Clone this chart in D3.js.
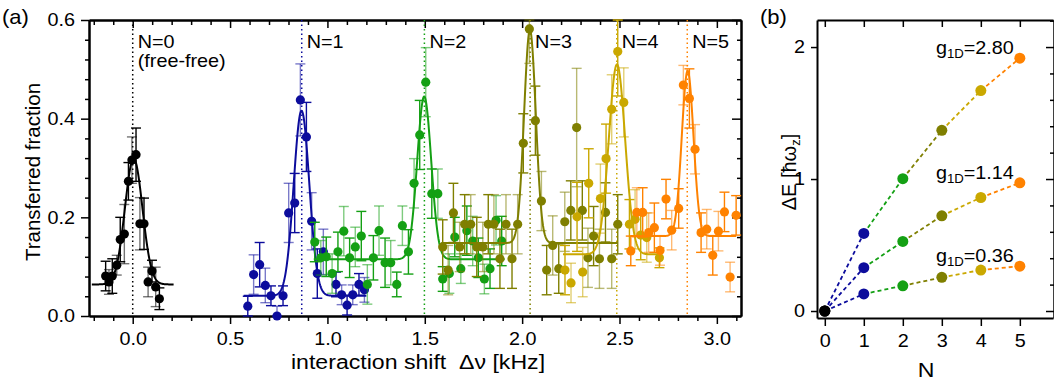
<!DOCTYPE html>
<html>
<head>
<meta charset="utf-8">
<script src="https://cdn.jsdelivr.net/npm/d3@7"></script>
<style>
  html, body { margin: 0; padding: 0; background: #fff; }
  svg text { font-family: "Liberation Sans", Arial, Helvetica, sans-serif; fill: #000; }
</style>
</head>
<body>
<svg id="fig" width="1054" height="382"></svg>
<script>
// ---------- panel (a): spectroscopy data, one set per bound state N ----------
const seriesNames = ["N=0", "N=1", "N=2", "N=3", "N=4", "N=5"];
const seriesColors = ["#000000", "#0c0c9c", "#14a014", "#7f7f00", "#caa800", "#ff8200"];

// interaction shift [kHz], transferred fraction, error
const n0Shift = [-0.139, -0.122, -0.105, -0.082, -0.064, -0.043, -0.022, -0.004, 0.017, 0.037, 0.058, 0.079, 0.099, 0.118, 0.137];
const n0Frac  = [0.081, 0.069, 0.081, 0.103, 0.155, 0.166, 0.273, 0.316, 0.327, 0.187, 0.187, 0.069, 0.091, 0.059, 0.035];
const n0Err   = [0.030, 0.025, 0.035, 0.020, 0.045, 0.060, 0.038, 0.047, 0.054, 0.053, 0.052, 0.030, 0.022, 0.040, 0.022];

const n1Shift = [0.591, 0.621, 0.652, 0.681, 0.710, 0.741, 0.772, 0.801, 0.832, 0.861, 0.892, 0.919, 0.948, 0.979, 1.044, 1.073, 1.101, 1.130, 1.162, 1.190];
const n1Frac  = [0.020, 0.084, 0.104, 0.062, 0.041, 0.000, 0.041, 0.209, 0.229, 0.438, 0.363, 0.192, 0.086, 0.130, 0.064, 0.043, 0.022, 0.043, 0.064, 0.053];
const n1Err   = [0.020, 0.040, 0.045, 0.035, 0.020, 0.020, 0.020, 0.060, 0.060, 0.073, 0.070, 0.058, 0.050, 0.046, 0.025, 0.020, 0.020, 0.020, 0.022, 0.025];

const n2Shift = [0.935, 0.966, 0.994, 1.024, 1.054, 1.084, 1.114, 1.143, 1.174, 1.205, 1.236, 1.265, 1.296, 1.325, 1.356, 1.385, 1.416, 1.445, 1.474, 1.505, 1.536, 1.567, 1.592, 1.626, 1.654, 1.685, 1.716, 1.746, 1.775, 1.806, 1.835, 1.866, 1.895];
const n2Frac  = [0.150, 0.118, 0.120, 0.086, 0.130, 0.172, 0.118, 0.140, 0.162, 0.064, 0.118, 0.173, 0.108, 0.108, 0.064, 0.183, 0.130, 0.269, 0.367, 0.474, 0.248, 0.248, 0.075, 0.086, 0.160, 0.096, 0.173, 0.152, 0.118, 0.075, 0.096, 0.194, 0.152];
const n2Err   = [0.040, 0.035, 0.040, 0.040, 0.040, 0.050, 0.040, 0.040, 0.050, 0.040, 0.045, 0.050, 0.050, 0.045, 0.025, 0.040, 0.045, 0.050, 0.070, 0.070, 0.050, 0.050, 0.025, 0.040, 0.040, 0.030, 0.050, 0.050, 0.040, 0.030, 0.040, 0.050, 0.050];

const n3Shift = [1.592, 1.620, 1.647, 1.679, 1.705, 1.736, 1.767, 1.798, 1.826, 1.855, 1.886, 1.917, 1.948, 1.977, 2.006, 2.037, 2.068, 2.099, 2.126, 2.157, 2.188, 2.219, 2.250, 2.280, 2.309, 2.338, 2.367, 2.397, 2.428, 2.460, 2.491];
const n3Frac  = [0.140, 0.093, 0.209, 0.140, 0.186, 0.186, 0.140, 0.140, 0.186, 0.186, 0.116, 0.186, 0.116, 0.186, 0.350, 0.582, 0.396, 0.233, 0.093, 0.143, 0.096, 0.191, 0.214, 0.382, 0.214, 0.118, 0.162, 0.116, 0.210, 0.116, 0.186];
const n3Err   = [0.055, 0.050, 0.060, 0.050, 0.060, 0.060, 0.060, 0.050, 0.060, 0.060, 0.060, 0.060, 0.060, 0.060, 0.060, 0.070, 0.070, 0.060, 0.050, 0.060, 0.050, 0.060, 0.060, 0.120, 0.060, 0.060, 0.060, 0.060, 0.060, 0.060, 0.060];

const n4Shift = [2.220, 2.251, 2.282, 2.311, 2.342, 2.402, 2.431, 2.460, 2.491, 2.522, 2.551, 2.580, 2.609, 2.640, 2.705];
const n4Frac  = [0.093, 0.067, 0.201, 0.089, 0.269, 0.238, 0.319, 0.419, 0.536, 0.433, 0.186, 0.196, 0.164, 0.159, 0.118];
const n4Err   = [0.050, 0.040, 0.070, 0.050, 0.070, 0.070, 0.070, 0.070, 0.090, 0.070, 0.050, 0.060, 0.050, 0.050, 0.020];

const n5Shift = [2.558, 2.589, 2.619, 2.650, 2.679, 2.708, 2.739, 2.768, 2.804, 2.828, 2.859, 2.888, 2.919, 2.948, 2.979, 3.008, 3.039, 3.068, 3.099];
const n5Frac  = [0.132, 0.210, 0.210, 0.169, 0.179, 0.133, 0.237, 0.174, 0.218, 0.468, 0.441, 0.338, 0.169, 0.176, 0.123, 0.172, 0.211, 0.079, 0.204];
const n5Err   = [0.030, 0.050, 0.050, 0.040, 0.050, 0.030, 0.040, 0.040, 0.040, 0.040, 0.060, 0.050, 0.040, 0.040, 0.040, 0.040, 0.040, 0.030, 0.040];

// Gaussian fits: centre, amplitude, width, offset, and the range they are drawn over
const fitCenter = [0.005, 0.867, 1.497, 2.040, 2.487, 2.850];
const fitAmp    = [0.255, 0.375, 0.330, 0.432, 0.385, 0.335];
const fitSigma  = [0.045, 0.040, 0.036, 0.030, 0.042, 0.030];
const fitOffset = [0.064, 0.041, 0.115, 0.148, 0.125, 0.162];
const fitFrom   = [-0.21, 0.57, 0.93, 1.585, 2.21, 2.555];
const fitTo     = [0.21, 1.20, 1.91, 2.49, 2.71, 3.10];

// resonance positions of the bound states (dotted markers)
const resonance = [0.0, 0.868, 1.498, 2.041, 2.486, 2.848];

const xTicksA = [0.0, 0.5, 1.0, 1.5, 2.0, 2.5, 3.0];
const yTicksA = [0.0, 0.2, 0.4, 0.6];

// ---------- panel (b): binding energy vs N for three couplings ----------
const levelsN = [0, 1, 2, 3, 4, 5];
const couplingLabels = ["2.80", "1.14", "0.36"];
const energyG280 = [0, 0.588, 1.003, 1.369, 1.670, 1.916];
const energyG114 = [0, 0.328, 0.527, 0.721, 0.860, 0.971];
const energyG036 = [0, 0.129, 0.191, 0.255, 0.310, 0.340];
const yTicksB = [0, 1, 2];

// ===================================================================
const svg = d3.select("#fig");
const SX = 1.1;   // the typeface is set slightly wide

// horizontal text placed at (x, y), widened by SX about its anchor
function label(parent, x, y, size, anchor) {
  return parent.append("text")
    .attr("transform", `translate(${x},${y}) scale(${SX},1)`)
    .attr("text-anchor", anchor || "start")
    .style("font-size", size + "px");
}

const xA = d3.scaleLinear().domain([-0.2245, 3.124]).range([89, 741]);
const yA = d3.scaleLinear().domain([0, 0.6]).range([316, 20]);

const series = [
  [n0Shift, n0Frac, n0Err], [n1Shift, n1Frac, n1Err], [n2Shift, n2Frac, n2Err],
  [n3Shift, n3Frac, n3Err], [n4Shift, n4Frac, n4Err], [n5Shift, n5Frac, n5Err]
];

const gA = svg.append("g");

const minorX = d3.range(-2, 32).map(i => i / 10).filter(v => !xTicksA.some(t => Math.abs(t - v) < 1e-6));
const minorY = d3.range(0, 16).map(i => i * 0.04).filter(v => !yTicksA.some(t => Math.abs(t - v) < 1e-6));

function styleAxis(g) {
  g.selectAll("path.domain").attr("stroke", "#000").attr("stroke-width", 2);
  g.selectAll(".tick line").attr("stroke", "#000").attr("stroke-width", 1.5);
  g.selectAll("text").style("font-size", "18px").attr("fill", "#000");
}
// widen tick labels about their own anchor point
function widenBottom(g) {
  g.selectAll(".tick text").each(function () {
    const t = d3.select(this), y = +t.attr("y");
    t.attr("y", 0).attr("transform", `translate(0,${y}) scale(${SX},1)`);
  });
}
function widenLeft(g) {
  g.selectAll(".tick text").each(function () {
    const t = d3.select(this), x = +t.attr("x");
    t.attr("x", 0).attr("transform", `translate(${x},0) scale(${SX},1)`);
  });
}

gA.append("g").attr("transform", "translate(0,316)")
  .call(d3.axisBottom(xA).tickValues(xTicksA).tickFormat(d3.format(".1f")).tickSize(8).tickPadding(8).tickSizeOuter(0))
  .call(styleAxis).call(widenBottom);
gA.append("g").attr("transform", "translate(0,316)")
  .call(d3.axisBottom(xA).tickValues(minorX).tickFormat("").tickSize(5).tickSizeOuter(0))
  .call(styleAxis);
gA.append("g").attr("transform", "translate(0,20)")
  .call(d3.axisBottom(xA).tickValues(xTicksA).tickFormat("").tickSize(8).tickSizeOuter(0))
  .call(styleAxis);
gA.append("g").attr("transform", "translate(0,20)")
  .call(d3.axisBottom(xA).tickValues(minorX).tickFormat("").tickSize(5).tickSizeOuter(0))
  .call(styleAxis);
gA.append("g").attr("transform", "translate(89,0)")
  .call(d3.axisLeft(yA).tickValues(yTicksA).tickFormat(d3.format(".1f")).tickSize(8).tickPadding(6).tickSizeOuter(0))
  .call(styleAxis).call(widenLeft);
gA.append("g").attr("transform", "translate(89,0)")
  .call(d3.axisLeft(yA).tickValues(minorY).tickFormat("").tickSize(4).tickSizeOuter(0))
  .call(styleAxis);
gA.append("g").attr("transform", "translate(741,0)")
  .call(d3.axisLeft(yA).tickValues(yTicksA).tickFormat("").tickSize(9).tickSizeOuter(0))
  .call(styleAxis);
gA.append("g").attr("transform", "translate(741,0)")
  .call(d3.axisLeft(yA).tickValues(minorY).tickFormat("").tickSize(4).tickSizeOuter(0))
  .call(styleAxis);

// dotted resonance markers and N labels
resonance.forEach((r, i) => {
  gA.append("line")
    .attr("x1", xA(r)).attr("x2", xA(r)).attr("y1", yA(0.6)).attr("y2", yA(0))
    .attr("stroke", seriesColors[i]).attr("stroke-width", 1.5).attr("stroke-dasharray", "1.5,3");
  label(gA, xA(r) + 5, 48, 18).text(seriesNames[i]);
});
label(gA, xA(resonance[0]) + 5, 67, 18).text("(free-free)");

// data + fits
const fitLine = d3.line().x(d => xA(d[0])).y(d => yA(d[1]));
series.forEach((s, k) => {
  const [xs, ys, es] = s;
  const col = seriesColors[k];
  const g = gA.append("g");
  xs.forEach((x, i) => {
    const op = i % 2 ? 0.55 : 1;
    const cx = xA(x), yt = yA(Math.min(0.6, ys[i] + es[i])), yb = yA(Math.max(0, ys[i] - es[i]));
    g.append("line").attr("x1", cx).attr("x2", cx).attr("y1", yt).attr("y2", yb)
      .attr("stroke", col).attr("stroke-width", 1.4).attr("stroke-opacity", op);
    [yt, yb].forEach(yy => g.append("line").attr("x1", cx - 5).attr("x2", cx + 5).attr("y1", yy).attr("y2", yy)
      .attr("stroke", col).attr("stroke-width", 1.4).attr("stroke-opacity", op));
  });
  const pts = d3.range(0, 301).map(j => {
    const x = fitFrom[k] + (fitTo[k] - fitFrom[k]) * j / 300;
    const y = fitOffset[k] + fitAmp[k] * Math.exp(-Math.pow(x - fitCenter[k], 2) / (2 * fitSigma[k] * fitSigma[k]));
    return [x, y];
  });
  g.selectAll("circle").data(xs).join("circle")
    .attr("cx", d => xA(d)).attr("cy", (d, i) => yA(ys[i])).attr("r", 4.6).attr("fill", col);
  g.append("path").attr("d", fitLine(pts)).attr("fill", "none").attr("stroke", col).attr("stroke-width", 2);
});

// titles, panel (a)
label(svg, 2, 24, 20).text("(a)");
svg.append("text").attr("transform", "translate(40,172) rotate(-90)").attr("text-anchor", "middle")
  .style("font-size", "20.5px").text("Transferred fraction");
label(svg, 418, 369, 21, "middle").attr("xml:space", "preserve").text("interaction shift  \u0394\u03bd [kHz]");

// ===================================================================
// panel (b)
const xB = d3.scaleLinear().domain([-0.2, 5.85]).range([817, 1053]);
const yB = d3.scaleLinear().domain([-0.053, 2.205]).range([318, 20]);
const gB = svg.append("g");
const minorYB = d3.range(0, 12).map(i => i * 0.2).filter(v => Math.abs(v - Math.round(v)) > 1e-6);

gB.append("g").attr("transform", "translate(0,318)")
  .call(d3.axisBottom(xB).tickValues(levelsN).tickFormat(d3.format("d")).tickSize(8).tickPadding(8).tickSizeOuter(0))
  .call(styleAxis).call(widenBottom);
gB.append("g").attr("transform", "translate(0,20)")
  .call(d3.axisBottom(xB).tickValues(levelsN).tickFormat("").tickSize(7).tickSizeOuter(0))
  .call(styleAxis);
gB.append("g").attr("transform", "translate(817,0)")
  .call(d3.axisLeft(yB).tickValues(yTicksB).tickFormat(d3.format("d")).tickSize(6).tickPadding(6).tickSizeOuter(0))
  .call(styleAxis).call(widenLeft);
gB.append("g").attr("transform", "translate(1054,0)")
  .call(d3.axisLeft(yB).tickValues(yTicksB).tickFormat("").tickSize(8).tickSizeOuter(0))
  .call(styleAxis);
gB.append("g").attr("transform", "translate(1054,0)")
  .call(d3.axisLeft(yB).tickValues(minorYB).tickFormat("").tickSize(4).tickSizeOuter(0))
  .call(styleAxis);

[energyG280, energyG114, energyG036].forEach((en, c) => {
  // dashed segments, each in the colour of the level it reaches
  for (let i = 1; i < levelsN.length; i++) {
    gB.append("line")
      .attr("x1", xB(levelsN[i - 1])).attr("y1", yB(en[i - 1]))
      .attr("x2", xB(levelsN[i])).attr("y2", yB(en[i]))
      .attr("stroke", seriesColors[i]).attr("stroke-width", 1.8).attr("stroke-dasharray", "4,3");
  }
  levelsN.forEach((n, i) => {
    gB.append("circle").attr("cx", xB(n)).attr("cy", yB(en[i])).attr("r", 5.5).attr("fill", seriesColors[i]);
  });
  const last = en[en.length - 1];
  const t = label(gB, xB(5) - 6, yB(last) - 4, 18, "end");
  t.append("tspan").text("g");
  t.append("tspan").attr("dy", 4).style("font-size", "12px").text("1D");
  t.append("tspan").attr("dy", -4).text("=" + couplingLabels[c]);
});

label(svg, 760, 24, 20).text("(b)");
label(svg, 926, 377, 21, "middle").text("N");
const yl = svg.append("text").attr("transform", "translate(796,172) rotate(-90)").attr("text-anchor", "middle")
  .style("font-size", "20px");
yl.append("tspan").text("\u0394E [\u0127\u03c9");
yl.append("tspan").attr("dy", 4).style("font-size", "13px").text("z");
yl.append("tspan").attr("dy", -4).text("]");
</script>
</body>
</html>
